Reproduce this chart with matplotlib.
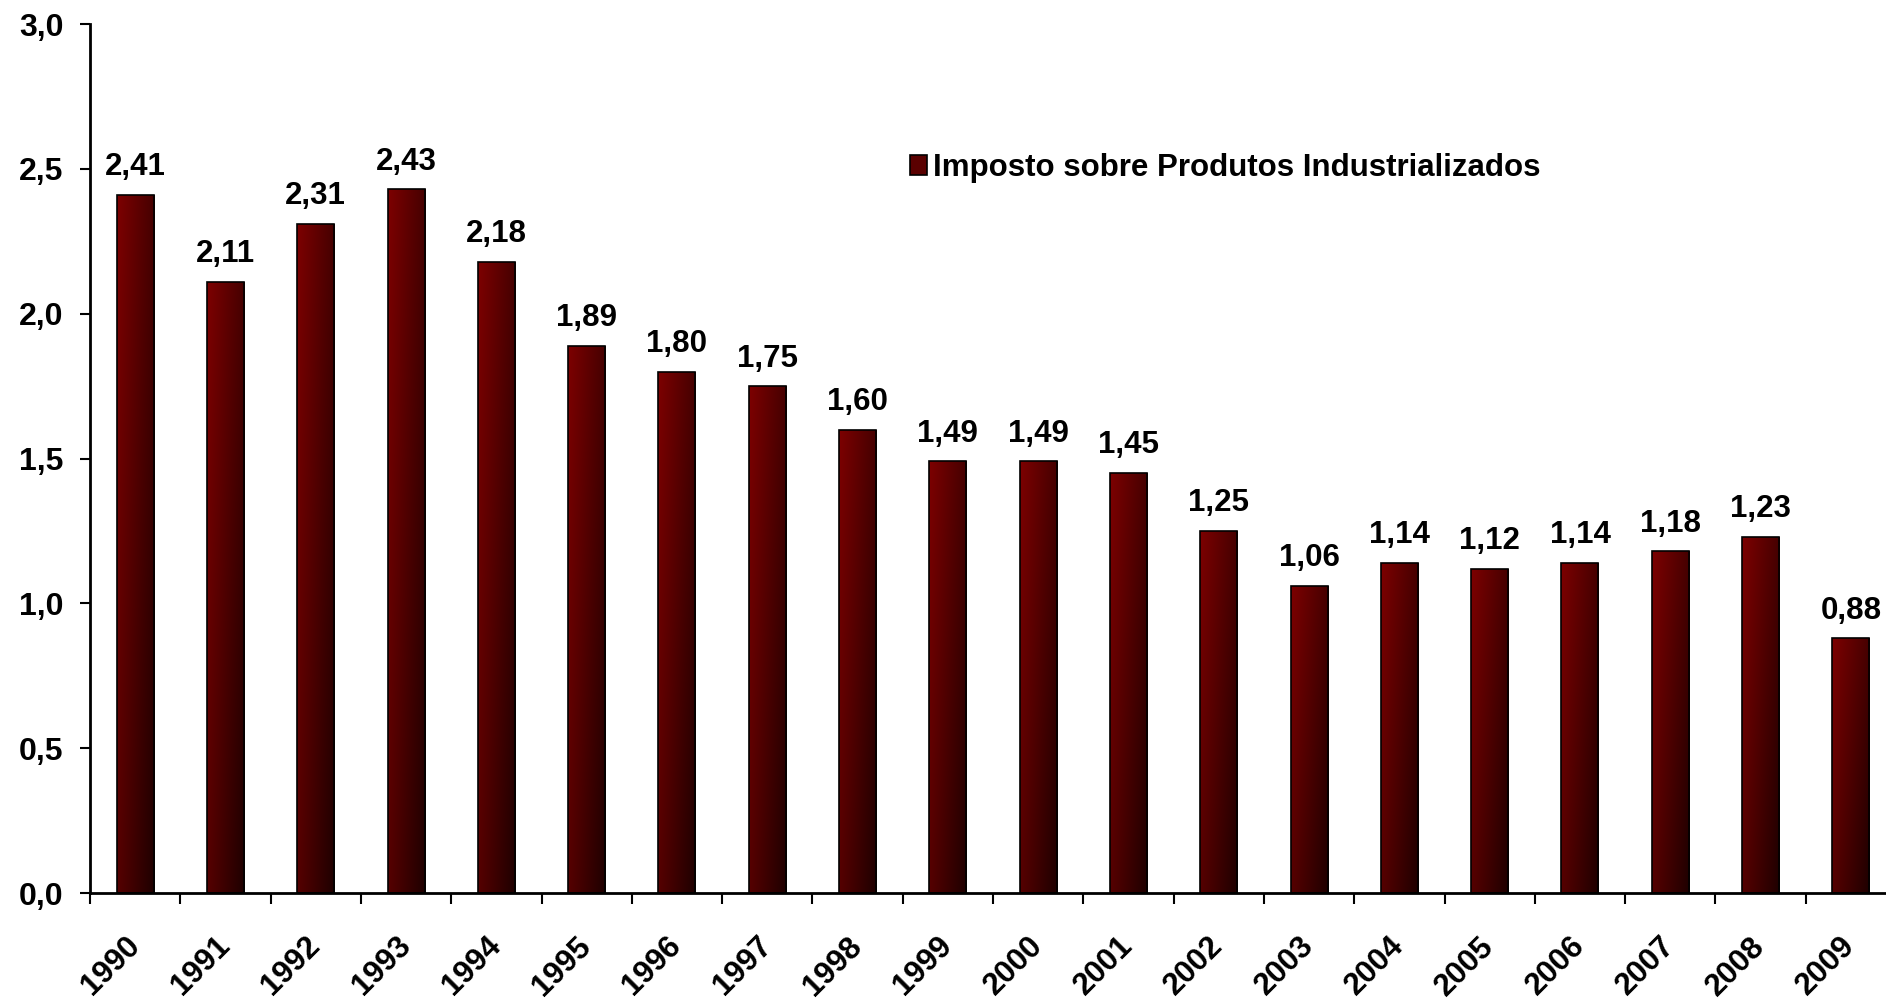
import numpy as np
import matplotlib
matplotlib.use('Agg')
import matplotlib.pyplot as plt
from matplotlib.patches import Patch
from matplotlib.ticker import FixedLocator

years = ['1990', '1991', '1992', '1993', '1994', '1995', '1996', '1997', '1998', '1999',
         '2000', '2001', '2002', '2003', '2004', '2005', '2006', '2007', '2008', '2009']
ipi = [2.41, 2.11, 2.31, 2.43, 2.18, 1.89, 1.80, 1.75, 1.60, 1.49,
       1.49, 1.45, 1.25, 1.06, 1.14, 1.12, 1.14, 1.18, 1.23, 0.88]
yticks = [0.0, 0.5, 1.0, 1.5, 2.0, 2.5, 3.0]
series_name = 'Imposto sobre Produtos Industrializados'

plt.rcParams['font.family'] = ['Liberation Sans', 'DejaVu Sans']
plt.rcParams['font.weight'] = 'bold'

W, H = 1886, 1005
fig = plt.figure(figsize=(W / 100, H / 100), dpi=100)
ax = fig.add_axes([90 / W, 1 - 893 / H, 1806 / W, 869 / H])

x = np.arange(len(years)) + 0.5
bw = 0.41
bars = ax.bar(x, ipi, width=bw, facecolor='none', edgecolor='black', linewidth=1.2, zorder=3)

# diagonal dark-red gradient in each bar
u = np.linspace(0, 1, 40)[None, :]
v = np.linspace(0, 1, 200)[:, None]
red = (125 - 55 * u - 40 * v) / 255.0
grad = np.zeros((200, 40, 3))
grad[:, :, 0] = red
for rect, val in zip(bars, ipi):
    x0 = rect.get_x()
    im = ax.imshow(grad, extent=[x0, x0 + bw, 0, val], aspect='auto', origin='upper',
                   zorder=2, interpolation='bilinear')
    im.set_clip_path(rect)

# value labels
for xi, val in zip(x, ipi):
    ax.annotate('{:.2f}'.format(val).replace('.', ','), (xi, val), xytext=(0, 9),
                textcoords='offset points', ha='center', va='bottom',
                fontsize=22.5, fontweight='bold')

ax.set_xlim(0, len(years))
ax.set_ylim(0, 3.0)

ax.spines['top'].set_visible(False)
ax.spines['right'].set_visible(False)
ax.spines['left'].set_linewidth(2)
ax.spines['bottom'].set_linewidth(2)
ax.spines['bottom'].set_zorder(4)

ax.set_yticks(yticks)
ax.set_yticklabels(['{:.1f}'.format(t).replace('.', ',') for t in yticks],
                   fontsize=23, fontweight='bold')
ax.tick_params(axis='y', length=7, width=1.5, pad=12)

# ticks between the bars, labels under them
ax.xaxis.set_major_locator(FixedLocator(np.arange(len(years) + 1)))
ax.xaxis.set_major_formatter(plt.NullFormatter())
ax.tick_params(axis='x', which='major', length=8, width=1.5)
ax.xaxis.set_minor_locator(FixedLocator(x))
ax.set_xticklabels(years, minor=True, rotation=45, ha='right', va='center',
                   rotation_mode='anchor', fontsize=22.5, fontweight='bold')
ax.tick_params(axis='x', which='minor', length=0, pad=35)

handle = Patch(facecolor='#5a0000', edgecolor='black', linewidth=1.2)
leg = ax.legend([handle], [series_name], loc='center left',
                bbox_to_anchor=(910 / W, 1 - 168 / H), bbox_transform=fig.transFigure,
                frameon=False, handlelength=0.54, handleheight=0.58, handletextpad=0.2,
                borderpad=0, borderaxespad=0,
                prop={'weight': 'bold', 'size': 22.5})

plt.savefig('out.png', dpi=100)
plt.close()
